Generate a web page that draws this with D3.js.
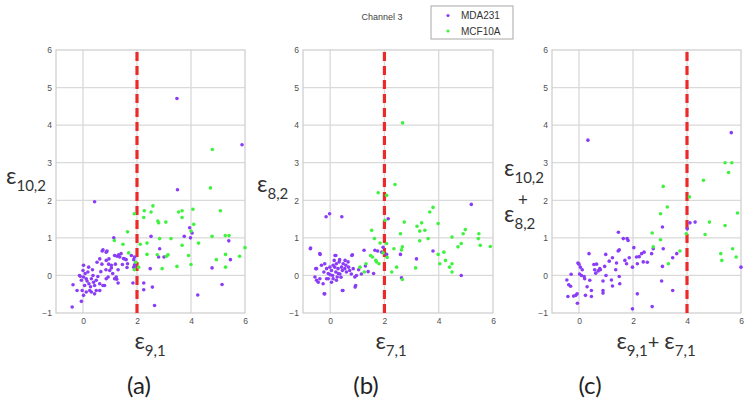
<!DOCTYPE html>
<html><head><meta charset="utf-8">
<script src="https://cdn.jsdelivr.net/npm/d3@7"></script>
<style>body{margin:0;background:#fff}svg{display:block}</style>
</head><body>
<svg id="chart" width="750" height="412"></svg>
<script>
// ---- data ----
const aMDA = [[0.43,1.96],[3.48,4.71],[5.89,3.48],[3.5,2.28],[3.95,1.27],[3.75,1.04],[2.52,1.04],[5.4,0.92],[1.14,1.0],
[0.74,0.68],[0.89,0.65],[0.71,0.65],[0.62,0.44],[0.96,0.44],[1.26,0.51],[1.32,0.55],[1.41,0.58],[1.5,0.45],[1.6,0.42],[1.46,0.29],[1.65,0.31],[1.88,0.42],[1.88,0.22],[1.91,0.49],[2.8,0.49],[2.84,0.71],[3.0,0.49],[2.49,0.18],[2.25,-0.2],[2.25,-0.38],[2.57,-0.31],[2.65,-0.8],[1.85,-0.2],[4.25,-0.52],[5.15,-0.24],[5.46,0.42],[4.78,0.2],[3.98,1.0],[4.04,1.13],
[1.05,0.2],[1.2,0.3],[1.3,0.15],[1.1,0.05],[1.25,-0.1],[1.3,-0.2],[0.95,0.3],[0.85,0.15],
[-0.37,-0.25],[-0.4,-0.84],[-0.13,0],[-0.06,-0.13],[0,0.13],[0.02,-0.04],[0.06,-0.27],[0.12,-0.09],[0.18,0.09],[0.22,-0.22],[0.25,-0.4],[0.31,-0.09],[0.37,0],[0.39,-0.18],[0.43,-0.27],[0.49,-0.13],[0.55,-0.03],[0.62,-0.22],[0.74,-0.27],[0.8,-0.27],[0.86,-0.09],[0.93,-0.04],[0.99,0.13],[1.17,-0.09],[1.23,-0.04],[-0.03,-0.4],[0.02,-0.53],[0.12,-0.44],[0.31,-0.44],[0.43,-0.49],[0.49,-0.4],[0.62,-0.4],[-0.06,-0.69],[-0.22,-0.4],[0.02,0.27],[0.21,0.22],[-0.1,-0.02],[0.08,0.05],[0.15,-0.15],[0.28,-0.3],[0.52,0.35],[0.7,0.3],[0.66,0.1],[0.35,0.15],
[0.86,0.4],[1.05,0.27],[1.17,0.53],[1.36,0.49],[1.54,0.44],[1.63,0.21],[1.79,0.53],[1.91,0.28],[0.86,0.62]];
const aMCF = [[4.79,3.35],[4.72,2.33],[2.59,1.85],[2.27,1.72],[2.52,1.69],[2.25,1.54],[1.9,1.64],[1.65,1.16],[2.77,1.45],[2.8,1.4],[3.07,1.42],[3.54,1.69],[3.67,1.72],[3.67,1.54],[4.07,1.76],[5.09,1.72],[4.1,1.36],[4.0,1.18],[2.84,0.98],[3.26,0.98],[2.12,0.83],[2.37,0.86],[1.16,0.93],[1.48,0.83],[1.69,0.6],[2.37,0.56],[3.09,0.51],[3.15,0.55],[3.67,0.8],[4.28,0.86],[4.78,1.04],[5.27,1.06],[5.41,1.06],[6.0,0.74],[3.91,0.53],[4.0,0.29],[3.48,0.24],[2.93,0.18],[2.75,0.55],[2.06,0.22],[4.94,0.42],[5.28,0.56],[5.28,0.22],[5.8,0.51],[1.95,0.35],[1.9,0.15]];
const bMDA = [[-0.15,1.56],[-0.02,1.64],[0.43,1.56],[-0.73,0.71],[-0.37,0.56],[-0.53,0.18],[-0.22,-0.49],[0.18,0.53],[0.8,0.53],[0.92,-0.31],[0.47,-0.4],[1.25,0.67],[1.3,0.25],[1.4,0.1],[1.65,0.67],[1.75,0.65],[1.9,0.62],[2.08,0.56],[2.14,1.51],[1.95,0.75],[2.59,0.56],[2.63,-0.06],[3.18,0.44],[3.79,0.65],[4.83,0],[5.2,1.89],[1.6,0.05],[1.05,0.15],
[-0.72,0.73],[-0.38,0.58],[0.21,0.53],[0.82,0.55],[-0.5,0.18],[-0.32,0.27],[-0.23,0.09],[-0.2,0.31],[-0.13,0.18],[-0.07,0.05],[-0.07,-0.09],[-0.01,0.22],[0.05,0.13],[0.09,0],[0.11,0.27],[0.17,0.22],[0.21,0.09],[0.23,0.31],[0.26,-0.04],[0.29,0.18],[0.33,0.36],[0.36,0.04],[0.42,0.22],[0.45,0.13],[0.48,0.31],[0.54,0.18],[0.58,0.27],[0.6,0.09],[0.66,0.36],[0.72,0.13],[0.78,0.04],[0.85,0.18],[0.91,-0.04],[0.97,0],[-0.56,-0.04],[-0.5,-0.13],[-0.44,-0.18],[-0.38,-0.09],[-0.26,-0.22],[-0.2,-0.49],[-0.13,-0.09],[0.05,-0.18],[0.11,-0.09],[0.23,-0.13],[0.45,-0.4],[0.94,-0.27],[1.15,0.04],[0.15,0.4],[0.35,0.42],[0.55,0.4],[0.3,0.05],[0.0,0.02],[0.68,0.22],[0.4,-0.05]];
const bMCF = [[2.67,4.06],[2.39,2.42],[1.77,2.2],[2.08,2.13],[2.02,1.47],[1.53,1.2],[1.63,0.98],[1.84,0.86],[2.08,0.85],[1.95,0.6],[2.73,1.42],[2.59,1.11],[2.66,0.76],[2.63,0.68],[2.35,0.71],[2.45,0.22],[2.1,0.48],[1.49,0.53],[1.56,0.49],[1.71,0.36],[1.68,0.4],[1.8,0.31],[1.1,0.22],[1.32,0.31],[1.26,0.09],[3.15,0.2],[3.2,1.31],[3.37,1.4],[3.3,1.18],[3.49,1.2],[3.61,0.98],[3.3,0.92],[3.79,1.81],[3.67,1.69],[3.98,1.38],[3.98,0.56],[4.04,0.31],[4.19,0.62],[4.25,0.4],[4.4,0.22],[4.49,0.31],[4.49,1.02],[4.71,0.76],[4.83,0.85],[4.9,1.11],[4.98,1.22],[5.48,1.11],[5.46,0.98],[5.53,0.8],[5.9,0.77],[4.49,0.09],[2.66,-0.11],[2.27,0.09]];
const cMDA = [[0.33,3.6],[5.64,3.8],[6.0,0.22],[-0.45,-0.12],[-0.38,-0.25],[-0.31,-0.29],[-0.41,-0.56],[-0.12,-0.53],[-0.07,-0.49],[-0.06,-0.74],[-0.29,0.03],[-0.04,0.33],[0.0,0.3],[0.05,0.22],[0.12,0.15],[0.02,0.04],[0.09,0],[0.19,-0.03],[0.21,-0.09],[0.24,-0.53],[0.37,0.58],[0.4,-0.13],[0.46,-0.4],[0.46,-0.56],[0.55,0.29],[0.58,0.15],[0.62,0.06],[0.71,0.12],[0.77,0.18],[0.79,0.15],[0.89,-0.15],[0.95,0.24],[0.99,0.56],[0.89,-0.4],[0.89,-0.47],[1.12,0.38],[1.24,0.47],[1.2,-0.12],[1.24,-0.28],[1.36,0.15],[1.39,0.33],[1.45,0.65],[1.49,0.68],[1.46,1.15],[1.49,-0.03],[1.51,-0.22],[1.64,0.98],[1.78,0.98],[1.82,0.93],[1.7,0.4],[1.76,0.31],[1.86,0.47],[1.98,0.22],[2.03,0.74],[2.13,0.49],[2.16,0.31],[2.23,0.5],[2.32,0.58],[2.41,0.62],[2.38,0.36],[2.53,0.35],[2.69,0.58],[2.75,0.71],[1.98,-0.89],[2.16,-0.49],[2.71,-0.83],[3.09,1.29],[3.12,0.71],[3.09,0.24],[3.06,-0.15],[3.47,-0.4],[3.47,0.47],[3.62,0.58],[4.01,1.24],[4.11,1.4],[4.3,1.42],[0.65,0.3],[1.0,0.0],[0.3,-0.3],[-0.2,-0.55]];
const cMCF = [[3.12,2.37],[3.27,1.82],[3.02,1.64],[2.71,1.13],[3.02,0.95],[2.75,0.76],[3.31,0.31],[3.74,0.65],[3.97,1.11],[4.09,2.09],[4.61,2.53],[4.67,1.09],[4.83,1.42],[5.41,3.0],[5.66,3.0],[5.54,2.74],[5.87,1.66],[5.41,1.33],[5.25,0.58],[5.29,0.4],[5.69,0.71],[5.82,0.49]];
const xTicks = [0,2,4,6];
const yTicks = [-1,0,1,2,3,4,5,6];
const thresholds = [2,2,4];
const panelLabels = ["(a)","(b)","(c)"];
const seriesNames = ["MDA231","MCF10A"];
const chartTitle = "Channel 3";

// ---- drawing ----
const svg = d3.select("#chart");
const colors = ["#8a3cf6","#3ff23f"];
const yScale = d3.scaleLinear().domain([-1,6]).range([313,50]);
const panelX = [[56,245],[303,493],[552,741]];
const data = [[aMDA,aMCF],[bMDA,bMCF],[cMDA,cMCF]];
const labelFont = "Lato, 'Open Sans', sans-serif";
const tickFont = "'Liberation Sans', Arial, sans-serif";

panelX.forEach((r,i)=>{
  const x = d3.scaleLinear().domain([-1,6]).range(r);
  const g = svg.append("g");
  // grid
  g.selectAll(".hg").data(yTicks.filter(t=>t>-1&&t<6)).join("line")
    .attr("x1",r[0]).attr("x2",r[1]).attr("y1",d=>yScale(d)).attr("y2",d=>yScale(d))
    .attr("stroke","#d9d9d9").attr("stroke-width",1.3);
  g.selectAll(".vg").data(xTicks.filter(t=>t<6)).join("line")
    .attr("x1",d=>x(d)).attr("x2",d=>x(d)).attr("y1",yScale(6)).attr("y2",yScale(-1))
    .attr("stroke","#d9d9d9").attr("stroke-width",1.3);
  g.append("rect").attr("x",r[0]).attr("y",yScale(6)).attr("width",r[1]-r[0]).attr("height",yScale(-1)-yScale(6))
    .attr("fill","none").attr("stroke","#cccccc").attr("stroke-width",1.2);
  // axes
  const ya = g.append("g").attr("transform",`translate(${r[0]},0)`)
    .call(d3.axisLeft(yScale).tickValues(yTicks).tickSize(0).tickPadding(4).tickFormat(d3.format("d")));
  const xa = g.append("g").attr("transform",`translate(0,${yScale(-1)})`)
    .call(d3.axisBottom(x).tickValues(xTicks).tickSize(0).tickPadding(5).tickFormat(d3.format("d")));
  [ya,xa].forEach(a=>{
    a.select(".domain").remove();
    a.selectAll("text").attr("font-family",tickFont).attr("font-size",8.5).attr("fill","#505050");
  });
  // threshold line
  g.append("line").attr("x1",x(thresholds[i])).attr("x2",x(thresholds[i]))
    .attr("y1",yScale(6)+2).attr("y2",yScale(-1))
    .attr("stroke","#ec2a2a").attr("stroke-width",3.2).attr("stroke-dasharray","9,5");
  // points
  data[i].forEach((pts,s)=>{
    g.append("g").selectAll("circle").data(pts).join("circle")
      .attr("cx",d=>x(d[0])).attr("cy",d=>yScale(d[1])).attr("r",1.8)
      .attr("fill",colors[s]);
  });
  // panel label
  svg.append("text").attr("x",[139,366,590][i]).attr("y",394).attr("text-anchor","middle")
    .attr("font-family",labelFont).attr("font-size",24).attr("fill","#222").text(panelLabels[i]);
});

function eps(parent, x, y, sub, anchor){
  const t = parent.append("text").attr("x",x).attr("y",y).attr("text-anchor",anchor||"start")
    .attr("font-family",labelFont).attr("fill","#333");
  t.append("tspan").attr("font-size",23).text("ε");
  t.append("tspan").attr("font-size",15).attr("dy",7).text(sub);
  return t;
}
// y labels
eps(svg, 6, 184, "10,2");
eps(svg, 257, 192, "8,2");
eps(svg, 504, 176, "10,2");
svg.append("text").attr("x",523).attr("y",206).attr("text-anchor","middle").attr("font-family",labelFont)
  .attr("font-size",17).attr("fill","#333").text("+");
eps(svg, 504, 222, "8,2");
// x labels
eps(svg, 150, 349, "9,1", "middle");
eps(svg, 391, 349, "7,1", "middle");
{
  const t = svg.append("text").attr("x",656).attr("y",349).attr("text-anchor","middle")
    .attr("font-family",labelFont).attr("fill","#333");
  t.append("tspan").attr("font-size",23).text("ε");
  t.append("tspan").attr("font-size",15).attr("dy",7).text("9,1");
  t.append("tspan").attr("font-size",20).attr("dy",-7).text("+ ");
  t.append("tspan").attr("font-size",23).text("ε");
  t.append("tspan").attr("font-size",15).attr("dy",7).text("7,1");
}

// title + legend
svg.append("text").attr("x",382).attr("y",20).attr("text-anchor","middle")
  .attr("font-family",tickFont).attr("font-size",9).attr("fill","#444").text(chartTitle);
svg.append("rect").attr("x",431).attr("y",6).attr("width",82).attr("height",33)
  .attr("fill","#fff").attr("stroke","#a8a8a8").attr("stroke-width",1);
const lg = svg.append("g").selectAll("g").data(seriesNames).join("g")
  .attr("transform",(d,i)=>`translate(0,${15.5+i*15.5})`);
lg.append("circle").attr("cx",448).attr("cy",0).attr("r",1.6).attr("fill",(d,i)=>colors[i]);
lg.append("text").attr("x",461).attr("y",3.5).attr("font-family",tickFont).attr("font-size",10)
  .attr("fill","#333").text(d=>d);
</script>
</body></html>
